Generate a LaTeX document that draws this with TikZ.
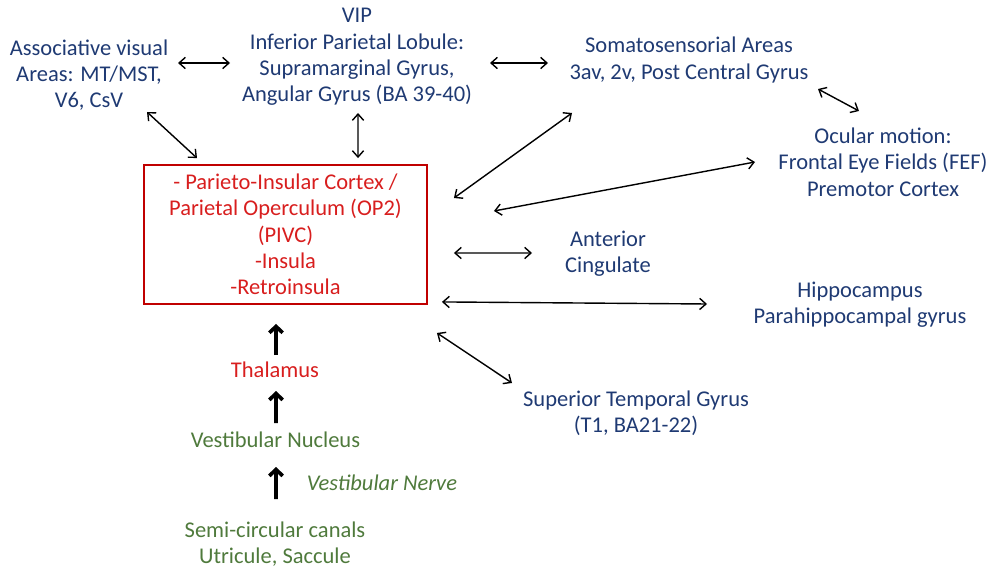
\documentclass[tikz,border=0pt]{standalone}
\usepackage{fontspec}
\setmainfont{Carlito}
\usetikzlibrary{arrows.meta,calc}
\definecolor{areablue}{HTML}{1F3A73}
\definecolor{pivcred}{HTML}{D81E1E}
\definecolor{boxred}{HTML}{C00000}
\definecolor{vestgreen}{HTML}{4F7A3C}
\tikzset{every node/.append style={execute at begin node={\hyphenpenalty=10000\exhyphenpenalty=10000\relax}}}

\begin{document}
\begin{tikzpicture}[x=0.025cm, y=-0.025cm,
                    area/.style={font=\fontsize{16}{18.7}\selectfont, text=areablue,
                    align=center, inner sep=0pt},
                    link/.style={<->, >={Straight Barb[length=4.5pt,width=8pt]}, line width=1pt},
                    flow/.style={->, >={Straight Barb[length=4.5pt,width=9.5pt]}, line width=2.6pt}]
\useasboundingbox (0,0) rectangle (991,570);
% cortical areas
\node[area] (assoc) at (89,75) {Associative visual\\Areas: MT/MST,\\V6, CsV};
\node[area] (vip) at (357,57) {VIP\\Inferior Parietal Lobule:\\Supramarginal Gyrus,\\Angular Gyrus (BA 39-40)};
\node[area] (somato) at (689,60) {Somatosensorial Areas\\3av, 2v, Post Central Gyrus};
\node[area] (ocular) at (883,162) {Ocular motion:\\Frontal Eye Fields (FEF)\\Premotor Cortex};
\node[area] (cingulate) at (608,254) {Anterior\\Cingulate};
\node[area] (hippo) at (860,305) {Hippocampus\\Parahippocampal gyrus};
\node[area] (stg) at (636,413) {Superior Temporal Gyrus\\(T1, BA21-22)};
% core
\node[area, text=pivcred, draw=boxred, line width=1.3pt, minimum width=7.075cm, minimum height=3.475cm]
  (pivc) at (285.5,234.5) {- Parieto-Insular Cortex /\\Parietal Operculum (OP2)\\(PIVC)\\-Insula\\-Retroinsula};
% vestibular pathway
\node[area, text=pivcred] (thal) at (275,370) {Thalamus};
\node[area, text=vestgreen] (nucleus) at (275.5,440) {Vestibular Nucleus};
\node[area, text=vestgreen, font=\fontsize{16}{18.7}\selectfont\itshape] (nerve) at (382,483) {Vestibular Nerve};
\node[area, text=vestgreen] (canals) at (275,544) {Semi-circular canals\\Utricule, Saccule};

\draw[link] ($(assoc)+(89,-12)$) -- ($(vip)+(-127,6)$);
\draw[link] ($(assoc)+(58,37)$) -- ($(pivc.north)+(-88.5,-6)$);
\draw[link] ($(vip)+(1,56)$) -- ($(pivc.north)+(72.5,-6)$);
\draw[link] ($(vip)+(133,6)$) -- ($(somato)+(-141,3)$);
\draw[link] ($(pivc.east)+(26,-36.5)$) -- ($(somato)+(-117,53)$);
\draw[link] ($(somato)+(129,29)$) -- ($(ocular)+(-24,-51)$);
\draw[link] ($(pivc.east)+(66,-23.5)$) -- ($(ocular)+(-128,0)$);
\draw[link] ($(pivc.east)+(26,18.5)$) -- ($(cingulate)+(-76,-1)$);
\draw[link] ($(pivc.south east)+(14,-3)$) -- ($(hippo)+(-153,-1)$);
\draw[link] ($(pivc.south east)+(9,28)$) -- ($(stg)+(-124,-30)$);

\draw[flow] ($(thal)+(1,-15)$) -- ($(pivc.south)+(-9.5,19)$);
\draw[flow] ($(nucleus)+(0.5,-17)$) -- ($(thal)+(1,21)$);
\draw[flow] ($(canals)+(1,-45)$) -- ($(nucleus)+(0.5,27)$);
\end{tikzpicture}
\end{document}
